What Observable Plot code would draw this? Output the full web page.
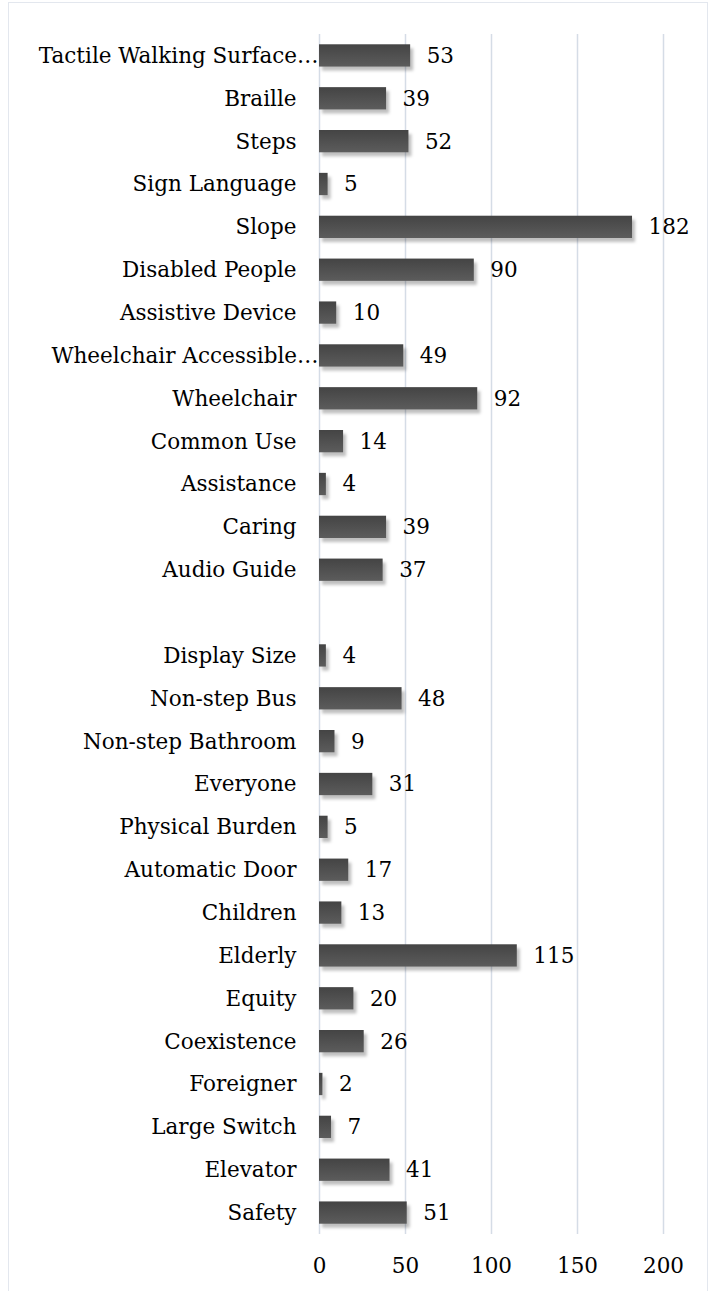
<!DOCTYPE html>
<html>
<head>
<meta charset="utf-8">
<script src="https://cdn.jsdelivr.net/npm/d3@7"></script>
<script src="https://cdn.jsdelivr.net/npm/@observablehq/plot@0.6"></script>
<style>
  html, body { margin: 0; padding: 0; background: #fff; }
  #frame { position: absolute; left: 8px; top: 2px; width: 700px; height: 1300px; border: 1.5px solid #e3e7ee; box-sizing: border-box; }
  #chart { position: absolute; left: 0; top: 0; }
  svg g[aria-label="bar"] rect { filter: drop-shadow(3px 4px 1.5px rgba(0,0,0,0.25)); }
</style>
</head>
<body>
<div id="frame"></div>
<div id="chart"></div>
<script>
const categories = [
  "Tactile Walking Surface…", "Braille", "Steps", "Sign Language", "Slope",
  "Disabled People", "Assistive Device", "Wheelchair Accessible…", "Wheelchair",
  "Common Use", "Assistance", "Caring", "Audio Guide", " ",
  "Display Size", "Non-step Bus", "Non-step Bathroom", "Everyone", "Physical Burden",
  "Automatic Door", "Children", "Elderly", "Equity", "Coexistence", "Foreigner",
  "Large Switch", "Elevator", "Safety"
];
const counts = [
  53, 39, 52, 5, 182,
  90, 10, 49, 92,
  14, 4, 39, 37, null,
  4, 48, 9, 31, 5,
  17, 13, 115, 20, 26, 2,
  7, 41, 51
];
const xTicks = [0, 50, 100, 150, 200];
const longLabels = ["Tactile Walking Surface…", "Wheelchair Accessible…"];

const data = categories.map((c, i) => ({category: c, count: counts[i]})).filter(d => d.count != null);
const shortLabels = categories.filter(c => !longLabels.includes(c) && c.trim() !== "");

const font = "'DejaVu Serif', serif";
const fs = 21.5;

const chart = Plot.plot({
  width: 710,
  height: 1291,
  marginLeft: 319,
  marginRight: 47,
  marginTop: 34,
  marginBottom: 57,
  style: {fontFamily: font, fontSize: fs + "px", color: "#000", background: "transparent", overflow: "visible"},
  x: {domain: [0, 200], ticks: xTicks},
  y: {domain: categories, paddingInner: 0.48, paddingOuter: 0.24, round: false},
  marks: [
    Plot.gridX(xTicks, {stroke: "#d5dce6", strokeOpacity: 1, strokeWidth: 1.5}),
    Plot.axisX({ticks: xTicks, tickSize: 0, tickPadding: 23, label: null, fontSize: fs}),
    Plot.axisY({ticks: shortLabels, tickSize: 0, tickPadding: 23, label: null, fontSize: fs}),
    Plot.axisY({ticks: longLabels, tickSize: 0, tickPadding: 1, label: null, fontSize: fs}),
    Plot.barX(data, {x: "count", y: "category", fill: "url(#barGrad)"}),
    Plot.text(data, {x: "count", y: "category", text: d => String(d.count), textAnchor: "start", dx: 16, fontSize: fs, fill: "#000"})
  ]
});

const svg = d3.select(chart);
const defs = svg.insert("defs", ":first-child");
const grad = defs.append("linearGradient").attr("id", "barGrad").attr("x1", 0).attr("y1", 0).attr("x2", 0).attr("y2", 1);
grad.append("stop").attr("offset", "0%").attr("stop-color", "#444");
grad.append("stop").attr("offset", "100%").attr("stop-color", "#5c5c5c");

document.getElementById("chart").appendChild(chart);
</script>
</body>
</html>
